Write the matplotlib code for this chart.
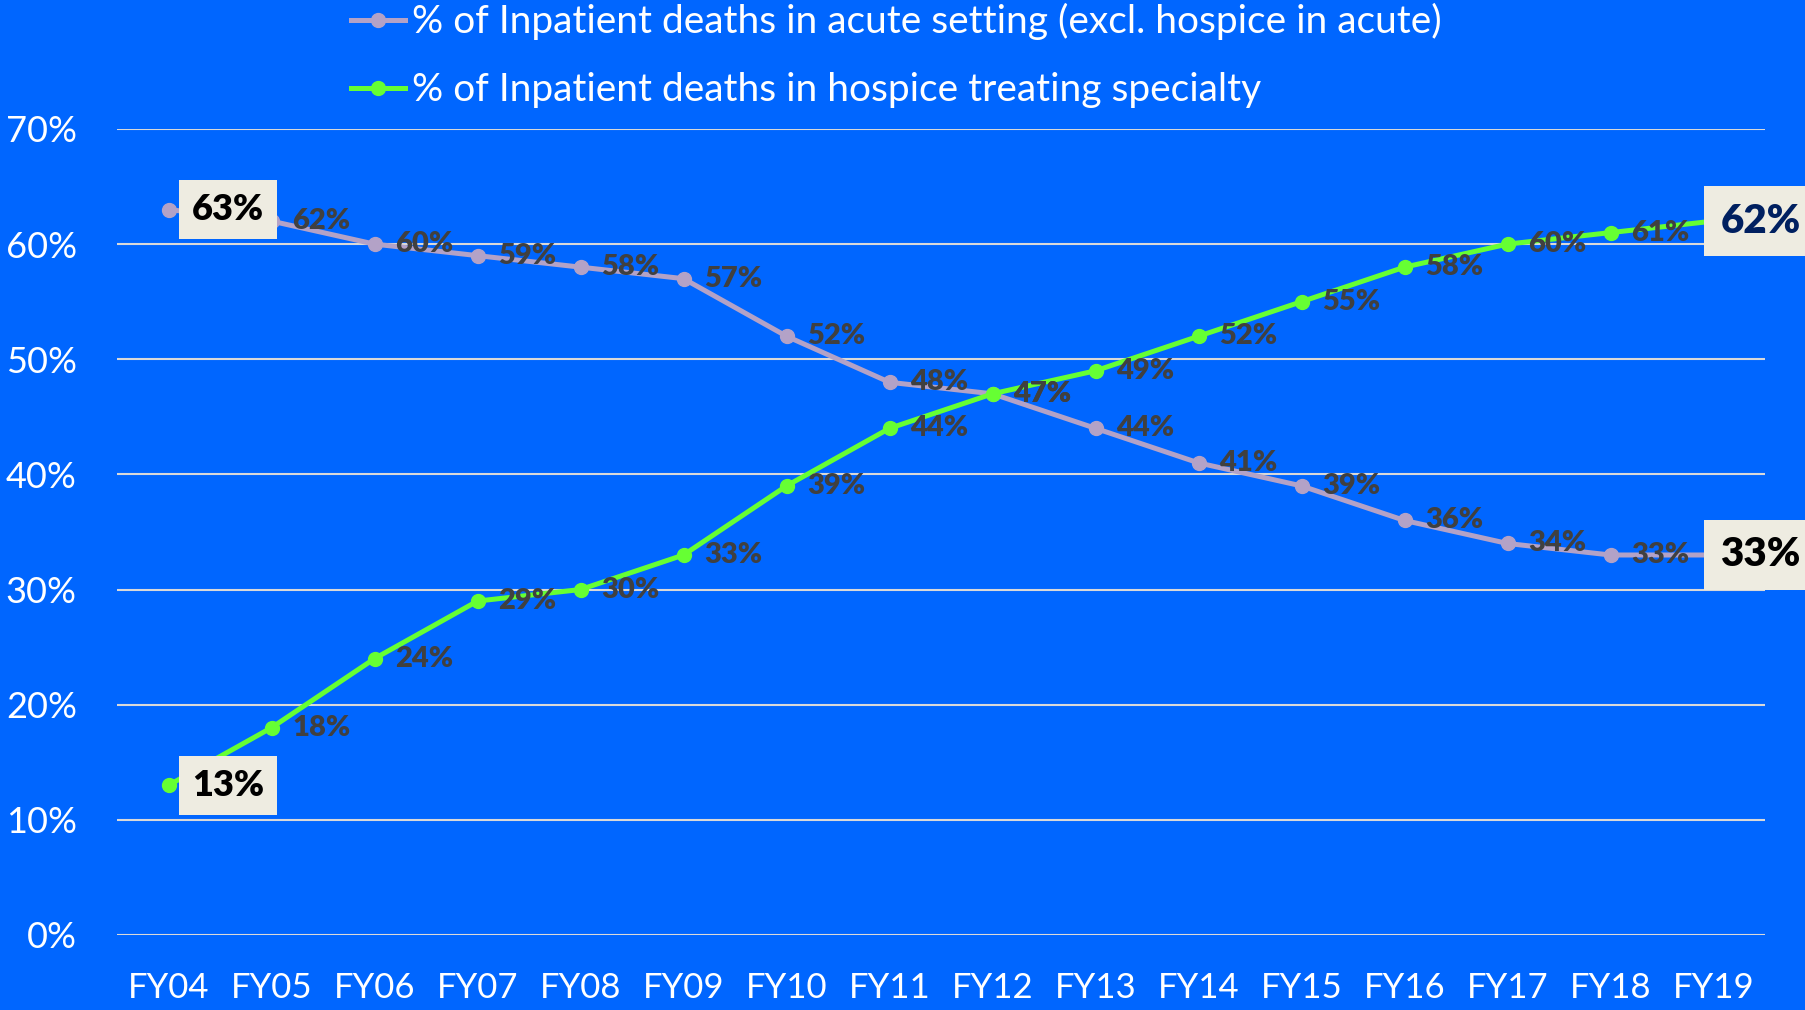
from matplotlib import pyplot as plt
from matplotlib.lines import Line2D

plt.rcParams['font.family'] = ['Lato', 'DejaVu Sans']

# chart data
years = ['FY04', 'FY05', 'FY06', 'FY07', 'FY08', 'FY09', 'FY10', 'FY11',
         'FY12', 'FY13', 'FY14', 'FY15', 'FY16', 'FY17', 'FY18', 'FY19']
acute = [63, 62, 60, 59, 58, 57, 52, 48, 47, 44, 41, 39, 36, 34, 33, 33]
hospice = [13, 18, 24, 29, 30, 33, 39, 44, 47, 49, 52, 55, 58, 60, 61, 62]
yticks = [0, 10, 20, 30, 40, 50, 60, 70]
acute_name = '% of Inpatient deaths in acute setting (excl. hospice in acute)'
hospice_name = '% of Inpatient deaths in hospice treating specialty'

BG = '#0066FF'
ACUTE_C = '#B3A2C7'
HOSP_C = '#66FF33'
LABEL_C = '#404040'
BOX_C = '#EEECE1'

fig = plt.figure(figsize=(18.06, 10.10), dpi=100, facecolor=BG)
ax = fig.add_axes([0.0648, 0.0743, 0.9125, 0.798])
ax.set_facecolor(BG)

x = list(range(len(years)))
ax.plot(x, acute, color=ACUTE_C, lw=3.6, marker='o', ms=10, clip_on=False, zorder=3)
ax.plot(x, hospice, color=HOSP_C, lw=3.6, marker='o', ms=10, clip_on=False, zorder=3)

# plain data labels (right of point), skip first and last
for series in (acute, hospice):
    for i in x[1:-1]:
        ax.annotate('%d%%' % series[i], (i, series[i]), xytext=(15, 0),
                    textcoords='offset points', ha='left', va='center',
                    fontsize=21, fontweight='heavy', color=LABEL_C, zorder=4)

# highlighted boxed labels
box = dict(boxstyle='square,pad=0.36', fc=BOX_C, ec='none')
for series in (acute, hospice):
    ax.annotate('%d%%' % series[0], (0, series[0]), xytext=(17, 0),
                textcoords='offset points', ha='left', va='center',
                fontsize=26, fontweight='heavy', color='black', bbox=box,
                zorder=5, annotation_clip=False)
box_r = dict(boxstyle='square,pad=0.4', fc=BOX_C, ec='none')
ax.annotate('%d%%' % acute[-1], (x[-1], acute[-1]), xytext=(5, 0),
            textcoords='offset points', ha='left', va='center',
            fontsize=29, fontweight='heavy', color='black', bbox=box_r,
            zorder=5, annotation_clip=False)
ax.annotate('%d%%' % hospice[-1], (x[-1], hospice[-1]), xytext=(5, 0),
            textcoords='offset points', ha='left', va='center',
            fontsize=29, fontweight='heavy', color='#002060', bbox=box_r,
            zorder=5, annotation_clip=False)

ax.set_xlim(-0.5, len(years) - 0.5)
ax.set_ylim(0, 70)
ax.set_xticks(x)
ax.set_xticklabels(years)
ax.set_yticks(yticks)
ax.set_yticklabels(['%d%%' % v for v in yticks])
ax.tick_params(axis='both', length=0, labelsize=25, labelcolor='white')
ax.tick_params(axis='y', labelsize=26, pad=29)
ax.tick_params(axis='x', pad=27)
ax.grid(axis='y', color='#D9D9D9', lw=1.5, zorder=1)
ax.set_axisbelow(True)
for s in ax.spines.values():
    s.set_visible(False)

handles = [Line2D([], [], color=ACUTE_C, lw=3.6, marker='o', ms=10),
           Line2D([], [], color=HOSP_C, lw=3.6, marker='o', ms=10)]
fig.legend(handles, [acute_name, hospice_name], loc='upper left',
           bbox_to_anchor=(0.1944, 0.997), frameon=False, fontsize=28,
           labelcolor='white', handlelength=1.39, handletextpad=0.18,
           labelspacing=0.83, borderpad=0, borderaxespad=0)

plt.savefig('out.png', dpi=100, facecolor=BG)
